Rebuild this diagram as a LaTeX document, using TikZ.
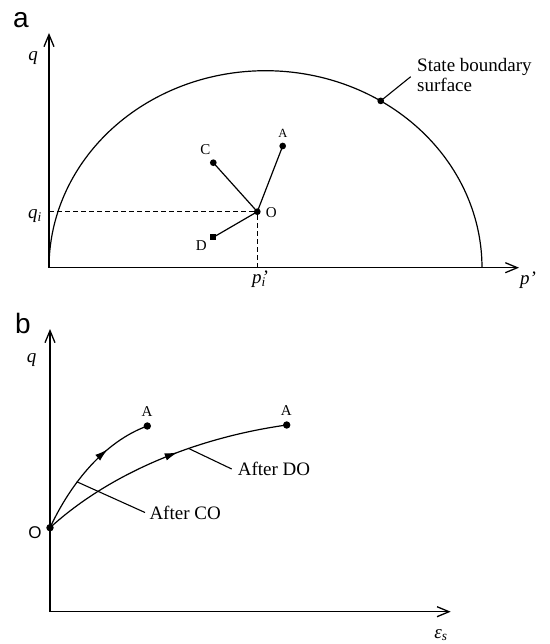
\documentclass[tikz,border=0pt]{standalone}
\usepackage{fontspec}
\setmainfont{Liberation Serif}
\newfontfamily\helv{Liberation Sans}
\usetikzlibrary{arrows.meta,decorations.markings}
\begin{document}
\begin{tikzpicture}[x=1pt,y=-1pt,
  axis/.style={line width=1.3pt,-{Straight Barb[length=12pt,width=10pt]}},
  curve/.style={line width=1.2pt},
  leader/.style={line width=1.1pt},
  dota/.style={circle,fill=black,inner sep=0pt,minimum size=6.7pt},
  dotb/.style={circle,fill=black,inner sep=0pt,minimum size=7.4pt},
  ptlabel/.style={inner sep=0pt,font=\fontsize{15}{15}\selectfont},
  smlabel/.style={inner sep=0pt,font=\fontsize{12.5}{13}\selectfont},
  axlabel/.style={inner sep=0pt,font=\fontsize{19}{19}\selectfont\itshape},
  txt/.style={inner ysep=0pt,font=\fontsize{19}{19}\selectfont},
  panel/.style={inner sep=0pt,font=\fontsize{28}{28}\selectfont\helv},
  guide/.style={line width=1.1pt,dash pattern=on 5pt off 3pt},
  midarrow/.style={postaction={decorate},decoration={markings,
     mark=at position #1 with {\arrow{Latex[length=13pt,width=7.5pt]}}}}
]
\useasboundingbox (0,0) rectangle (549,644);

% ---------------- panel a ----------------
\node[panel,anchor=base west] (la) at (13,27.3) {a};
\coordinate (oa) at (49,267.7);
\coordinate (ya) at (49,33);
\coordinate (xa) at (519,267.7);
\draw[axis] (oa) -- (ya);
\draw[axis] (oa) -- (xa);
\node[axlabel,anchor=base] (qa) at (33,60.8) {q};
\node[axlabel,anchor=base] (pa) at (528,284) {p’};

% state boundary surface
\draw[curve] plot[domain=180:360,samples=140] ({265.5+216.5*cos(\x)},{267.7+197*sin(\x)});
\node[dota] (sbd) at (380.7,100.9) {};
\coordinate (sbe) at (410.7,76.7);
\draw[leader] (sbd.center) -- (sbe);
\node[txt,inner xsep=0pt,anchor=base west] (sb1) at (417,71.7) {State boundary};
\node[txt,inner xsep=0pt,anchor=base west] (sb2) at (417,91.7) {surface};

% stress points
\node[dota] (O) at (257.3,211.7) {};
\node[dota] (A) at (282.7,146) {};
\node[dota] (C) at (213.3,162.7) {};
\node[dota,rectangle,minimum size=6pt] (D) at (213.3,237.3) {};
\draw[curve] (O.center) -- (A.center);
\draw[curve] (O.center) -- (C.center);
\draw[curve] (O.center) -- (D.center);
\node[smlabel] (lA) at (282.8,133.3) {A};
\node[ptlabel] (lC) at (205.3,150) {C};
\node[ptlabel] (lD) at (201.3,245.7) {D};
\node[ptlabel] (lO) at (271.3,212.8) {O};

\coordinate (qiy) at (49,211.7);
\coordinate (pix) at (257.3,267.7);
\draw[guide] (qiy) -- (O);
\draw[guide] (O) -- (pix);
\node[axlabel,anchor=base] (qi) at (35,218.8) {q\textsubscript{i}};
\node[axlabel,anchor=base] (pi) at (258.9,283.5) {p\rlap{’}\textsubscript{i}};

% ---------------- panel b ----------------
\node[panel,anchor=base west] (lb) at (15,333.3) {b};
\coordinate (ob) at (50,611.7);
\coordinate (yb) at (50,329);
\coordinate (xb) at (450.7,611.7);
\draw[axis] (ob) -- (yb);
\draw[axis] (ob) -- (xb);
\node[axlabel,anchor=base] (qb) at (31.7,362.5) {q};
\node[axlabel,anchor=base] (eb) at (441,638) {ε\textsubscript{s}};

\node[dotb] (Ob) at (50,527.7) {};
\node[dotb] (A1) at (147.3,426) {};
\node[dotb] (A2) at (286.7,425) {};
\node[inner sep=0pt,font=\fontsize{17}{17}\selectfont\helv] (lOb) at (35,533) {O};
\node[ptlabel] (lA1) at (147,411.7) {A};
\node[ptlabel] (lA2) at (286.3,411) {A};

\draw[curve,midarrow=0.68] (Ob.center) .. controls (71.1,482.4) and (105,441.4) .. (A1.center);
\draw[curve,midarrow=0.57] (Ob.center) .. controls (110.5,472.5) and (197.6,437.5) .. (A2.center);

\coordinate (cco) at (76.7,481.7);
\coordinate (cdo) at (188.3,448.3);
\node[txt,inner xsep=6pt,anchor=west] (ado) at (231.7,469) {After DO};
\node[txt,inner xsep=4.3pt,anchor=west] (aco) at (145,512.5) {After CO};
\draw[leader] (cdo) -- (ado.west);
\draw[leader] (cco) -- (aco.west);
\end{tikzpicture}
\end{document}
